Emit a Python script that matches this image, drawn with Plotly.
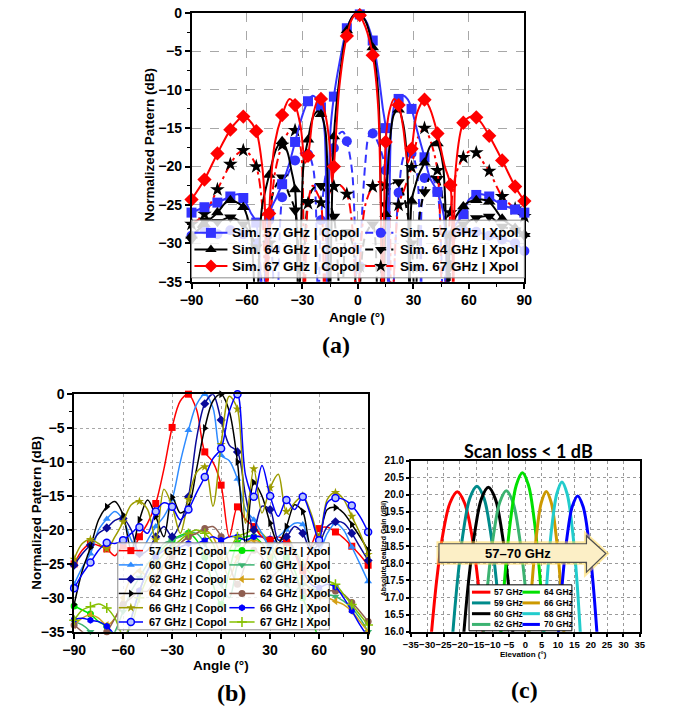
import plotly.graph_objects as go

W, H = 675, 717
OFF = 0
FW, FH = W - 2 * OFF, H - 2 * OFF
SANS = "Liberation Sans"
SERIF = "Liberation Serif"

# ================= (a) data : normalized pattern, 57/64/67 GHz =================
A_MARK_ANG = [-90, -83, -76, -69, -62, -55, -48, -41, -34, -27, -20, -13, -6, 1, 8,
              15, 22, 29, 36, 43, 50, 57, 64, 71, 78, 85, 90]

A_C57_ANG = [-90, -83, -76, -69, -65, -62, -58, -55, -51.5, -48, -44, -41, -37, -34, -30, -27, -24.5, -22, -20, -18,
             -16.5, -15, -13, -10, -6, -3, -1, 1, 4, 8, 11, 13.5, 15, 16.5, 18, 20, 22, 24.5, 27, 29,
             32, 36, 39, 43, 46.5, 48.5, 50, 53, 57, 60, 64, 67, 71, 74, 78, 85, 90]
A_C57_VAL = [-26.0, -25.3, -24.7, -23.9, -23.6, -24.1, -26.0, -27.3, -40, -26.2, -24.0, -22.3, -19.5, -16.8, -13.3, -11.5, -10.8, -11.3, -12.3, -15.5,
             -40, -15.8, -10.9, -6.5, -2.0, -0.5, 0.0, -0.2, -0.9, -3.6, -7.8, -12.5, -15.0, -40, -15.0, -11.8, -11.2, -10.8, -11.3, -12.5,
             -15.3, -18.8, -21.5, -23.3, -26.5, -40, -29.0, -27.5, -26.2, -24.3, -23.7, -23.6, -23.9, -24.4, -25.0, -25.6, -26.0]

A_C64_ANG = [-90, -83, -76, -72, -69, -66, -62, -58, -55, -52, -48, -44, -41, -38, -36, -34, -32, -29.5, -27, -24,
             -21.5, -20, -17.5, -15.5, -13, -10, -6, -3, 0, 1, 4, 8, 11, 13.5, 15, 17, 19.5, 22, 24.5, 26.5,
             28, 29, 31, 33, 36, 39, 42, 43, 46, 49, 50, 53, 57, 60, 64, 67, 71, 75, 78, 85, 90]
A_C64_VAL = [-29.0, -27.5, -26.0, -24.8, -24.4, -24.6, -25.3, -28.5, -40, -25.5, -21.1, -17.6, -16.7, -18.2, -20.5, -23.0, -40, -20.0, -16.5, -13.4,
             -12.8, -13.2, -15.5, -40, -16.1, -8.5, -2.3, -0.5, 0.0, -0.1, -1.0, -4.5, -10.5, -40, -26.2, -17.5, -13.2, -12.6, -14.5, -19.0,
             -40, -24.5, -22.5, -21.0, -19.5, -17.4, -16.8, -17.0, -19.8, -40, -29.0, -26.5, -25.2, -24.6, -24.4, -24.3, -24.6, -25.8, -26.8, -28.0, -28.8]

A_C67_ANG = [-90, -83, -76, -69, -65, -62, -59, -55, -52, -50.5, -49.2, -48, -45, -41, -37, -34, -31, -28.5, -27, -24,
             -21, -20, -17, -15, -14, -13, -10, -6, -3, 0, 1, 4, 8, 11, 13.5, 15, 17, 19.5, 22, 24.5,
             27, 29, 32, 36, 39, 43, 47, 50, 51.5, 53, 57, 60, 63, 64, 67, 71, 78, 85, 90]
A_C67_VAL = [-24.3, -21.7, -18.3, -15.2, -14.0, -13.5, -13.9, -15.4, -19.5, -24.0, -40, -26.1, -17.0, -13.3, -11.2, -12.0, -14.8, -19.5, -18.6, -13.0,
             -11.1, -11.2, -14.0, -18.0, -22.0, -20.0, -9.5, -3.0, -0.7, 0.0, -0.3, -1.8, -5.5, -12.5, -40, -16.8, -12.8, -11.2, -12.0, -15.0,
             -19.5, -17.7, -13.0, -11.3, -12.5, -15.7, -20.0, -22.4, -40, -20.0, -14.3, -13.6, -13.5, -13.6, -14.4, -16.0, -19.2, -22.6, -24.5]

A_X57_ANG = [-90, -83, -76, -69, -62, -55, -51, -48, -44, -41, -37, -34, -31, -27, -24, -21.5, -20, -17, -13, -10,
             -8, -6, -3, 0, 1, 4, 6, 8, 11, 15, 18, 22, 25.5, 29, 32, 34.5, 36, 39, 43, 46.5,
             50, 57, 64, 71, 78, 85, 90]
A_X57_VAL = [-29.0, -28.2, -28.8, -28.3, -28.8, -30.0, -40, -27.0, -40, -24.0, -20.5, -19.2, -18.3, -18.4, -20.5, -40, -27.0, -20.5, -17.6, -15.7,
             -15.5, -16.7, -21.0, -45, -33, -19.5, -16.0, -15.7, -17.0, -20.5, -40, -23.4, -18.4, -18.3, -21.0, -40, -21.5, -21.0, -23.3, -40,
             -29.0, -28.3, -28.5, -29.0, -29.5, -30.0, -31.0]

A_X64_ANG = [-90, -83, -76, -69, -62, -55, -50.5, -48, -46, -41, -37.5, -34, -30.5, -27, -24, -20, -16, -13, -9, -6,
             -3, 0, 1, 4, 8, 11, 15, 18.5, 22, 25, 29, 31, 33, 36, 39.5, 43, 46, 49, 50, 53,
             57, 64, 71, 78, 85, 90]
A_X64_VAL = [-29.5, -27.0, -27.2, -26.6, -27.5, -30.5, -40, -30.0, -23.5, -21.4, -23.5, -25.7, -40, -24.6, -22.8, -22.5, -24.5, -26.5, -40, -28.5,
             -30.0, -45, -36, -29.0, -27.5, -40, -25.0, -22.3, -22.0, -24.0, -30.0, -40, -27.0, -23.3, -21.3, -21.6, -24.5, -40, -33.0, -28.0,
             -27.5, -26.7, -26.5, -27.8, -28.3, -29.0]

A_X67_ANG = [-90, -83, -76, -69, -65, -62, -59, -55, -52, -49.5, -48, -45, -41, -37, -34, -31, -29, -27, -24.5, -22,
             -20, -18, -15.5, -13, -10, -6, -3, 0, 1, 4, 8, 11, 15, 18, 22, 25, 29, 32, 36, 39,
             43, 46, 50, 53, 57, 60.5, 64, 67, 71, 78, 85, 90]
A_X67_VAL = [-27.5, -26.2, -23.0, -19.7, -18.3, -17.9, -18.3, -20.0, -24.5, -40, -30.0, -21.0, -17.2, -15.4, -15.3, -17.5, -40, -24.8, -22.5, -23.5,
             -24.7, -40, -23.5, -22.6, -22.4, -23.6, -28.0, -45, -33, -25.0, -22.6, -22.0, -22.5, -40, -25.0, -23.0, -20.1, -16.5, -15.0, -16.5,
             -20.5, -40, -26.0, -21.0, -18.8, -18.0, -18.2, -19.2, -20.6, -23.9, -25.5, -26.5]

# ================= (b) data : normalized pattern, 57-67 GHz =================
B_ANG = list(range(-90, 91, 5))
B_MARK_ANG = list(range(-90, 91, 10))

B_C57 = [-25.0, -23.0, -22.0, -22.3, -22.8, -23.8, -22.3, -23.1, -21.0, -19.0, -16.1, -11.0, -4.9, -1.0, 0.0, -2.3, -8.5, -10.0, -13.4,
         -21.0, -16.6, -18.5, -19.5, -21.0, -21.5, -21.0, -21.8, -23.5, -26.0, -22.5, -19.8, -19.6, -20.3, -21.2, -22.4, -23.7, -25.2]
B_C60 = [-28.0, -25.5, -23.5, -20.0, -18.4, -17.3, -18.5, -21.5, -23.5, -21.5, -19.5, -18.0, -15.5, -10.0, -5.3, -1.5, 0.0, -2.0, -9.0,
         -9.8, -12.5, -17.0, -18.5, -20.5, -22.5, -21.0, -20.0, -19.0, -19.2, -22.5, -23.0, -20.5, -19.0, -20.0, -22.5, -25.0, -27.6]
B_C62 = [-25.2, -23.5, -22.2, -20.5, -19.7, -18.6, -18.3, -20.0, -23.5, -23.0, -21.0, -19.5, -21.0, -19.0, -15.1, -6.5, -1.4, 0.0, -3.8,
         -7.5, -8.5, -15.0, -20.0, -16.5, -17.0, -21.5, -21.0, -19.5, -20.5, -23.0, -22.0, -19.5, -18.8, -19.0, -20.5, -22.5, -24.5]
B_C64 = [-31.0, -26.0, -22.6, -18.5, -16.6, -15.8, -17.8, -23.0, -18.5, -15.6, -18.0, -21.0, -15.2, -17.5, -16.5, -11.0, -5.0, -1.0, 0.0,
         -2.5, -10.0, -22.0, -13.0, -15.0, -19.0, -22.0, -19.5, -16.3, -17.3, -22.5, -21.0, -17.0, -16.7, -17.5, -19.2, -21.0, -23.0]
B_C66 = [-24.3, -22.0, -21.4, -22.0, -22.8, -21.0, -18.8, -16.3, -15.8, -17.0, -21.5, -14.0, -16.5, -20.5, -15.5, -11.5, -10.7, -16.5, -7.4,
         -0.3, -2.2, -19.0, -11.0, -17.5, -13.8, -11.8, -17.3, -16.0, -15.0, -17.5, -21.0, -15.5, -14.5, -15.5, -18.0, -20.5, -23.6]
B_C67 = [-28.6, -26.5, -24.8, -23.0, -21.9, -22.0, -21.5, -20.5, -19.6, -20.5, -17.3, -16.0, -16.6, -18.5, -17.0, -14.5, -12.2, -9.5, -8.0,
         -2.5, 0.0, -12.0, -15.1, -10.5, -15.0, -18.0, -15.6, -17.0, -15.1, -18.0, -21.5, -16.0, -15.3, -15.5, -16.4, -18.0, -20.3]
B_X57 = [-31.2, -31.8, -32.4, -33.5, -34.2, -36.0, -37.0, -33.0, -29.0, -26.0, -24.0, -22.5, -21.5, -20.8, -20.5, -21.5, -24.0, -28.0, -31.0,
         -26.0, -22.0, -21.0, -21.0, -22.0, -24.0, -26.0, -24.0, -26.0, -30.0, -33.0, -36.0, -38.0, -37.0, -38.0, -40.0, -40.0, -40.0]
B_X60 = [-33.5, -34.0, -35.0, -37.0, -37.0, -35.0, -32.0, -29.0, -27.0, -25.0, -23.5, -22.0, -21.5, -21.0, -20.5, -20.5, -22.0, -25.0, -28.0,
         -30.0, -25.0, -22.0, -21.0, -21.0, -22.5, -25.0, -28.0, -29.0, -28.0, -28.5, -29.0, -29.5, -29.8, -30.5, -31.5, -33.0, -35.0]
B_X62 = [-34.0, -33.0, -32.5, -33.0, -34.0, -33.0, -30.0, -27.0, -26.0, -27.0, -28.0, -25.0, -23.0, -22.0, -21.0, -20.5, -20.0, -21.0, -24.0,
         -27.0, -24.0, -22.0, -21.5, -22.0, -24.0, -22.0, -21.0, -23.0, -27.0, -29.0, -30.0, -30.0, -30.5, -31.0, -32.0, -33.5, -35.0]
B_X64 = [-34.0, -35.0, -36.0, -36.0, -35.0, -33.0, -31.0, -30.0, -29.0, -29.0, -27.0, -25.0, -24.0, -22.0, -21.0, -20.5, -19.8, -19.5, -21.0,
         -25.0, -28.0, -25.0, -23.0, -24.0, -27.0, -26.0, -25.0, -27.0, -29.0, -30.0, -29.5, -29.0, -29.0, -29.5, -30.7, -32.0, -33.5]
B_X66 = [-33.2, -33.0, -33.3, -33.5, -34.2, -35.5, -37.0, -33.0, -29.0, -26.0, -24.0, -23.0, -22.5, -22.5, -22.0, -22.0, -21.5, -21.0, -21.5,
         -21.0, -21.0, -21.5, -21.0, -21.0, -21.3, -22.0, -21.5, -23.0, -26.0, -28.0, -28.5, -28.0, -28.4, -30.0, -31.9, -34.0, -35.8]
B_X67 = [-33.3, -31.8, -31.3, -30.9, -31.5, -33.0, -35.5, -34.0, -30.0, -27.0, -25.0, -23.5, -22.5, -21.5, -20.5, -20.0, -20.5, -22.0, -25.0,
         -23.0, -21.0, -20.5, -20.0, -20.5, -22.0, -23.5, -22.0, -23.0, -25.0, -26.5, -27.0, -27.5, -28.0, -29.5, -31.0, -32.5, -34.0]

# ================= (c) data : absolute realized gain vs elevation =================
C_X57 = [-29.5, -27.1, -25.2, -23.0, -20.8, -18.6, -16.4, -14.5, -12.1]
C_Y57 = [15.1, 17.5, 18.85, 19.77, 20.09, 19.77, 18.85, 17.5, 15.1]
C_X59 = [-22.9, -20.7, -18.9, -16.9, -14.8, -12.7, -10.7, -8.9, -6.7]
C_Y59 = [15.1, 17.53, 18.96, 19.92, 20.25, 19.92, 18.96, 17.53, 15.1]
C_X60 = [-19.55, -17.3, -15.4, -13.4, -11.3, -9.2, -7.2, -5.3, -3.05]
C_Y60 = [15.1, 17.52, 18.94, 19.89, 20.22, 19.89, 18.94, 17.52, 15.1]
C_X62 = [-13.5, -11.4, -9.65, -7.75, -5.8, -3.85, -1.95, -0.2, 1.9]
C_Y62 = [15.13, 17.48, 18.87, 19.8, 20.12, 19.8, 18.87, 17.48, 15.13]
C_X64 = [-8.15, -6.2, -4.55, -2.75, -0.9, 0.95, 2.75, 4.4, 6.35]
C_Y64 = [15.0, 17.67, 19.24, 20.29, 20.65, 20.29, 19.24, 17.67, 15.0]
C_X66 = [0.45, 2.1, 3.45, 4.9, 6.4, 7.9, 9.35, 10.7, 12.35]
C_Y66 = [15.14, 17.48, 18.86, 19.78, 20.1, 19.78, 18.86, 17.48, 15.14]
C_X68 = [5.05, 6.7, 8.1, 9.65, 11.2, 12.75, 14.3, 15.7, 17.35]
C_Y68 = [15.08, 17.58, 19.06, 20.04, 20.38, 20.04, 19.06, 17.58, 15.08]
C_X70 = [9.5, 11.3, 12.75, 14.35, 16.0, 17.65, 19.25, 20.7, 22.5]
C_Y70 = [15.17, 17.43, 18.77, 19.66, 19.97, 19.66, 18.77, 17.43, 15.17]

# ---------------------------------------------------------------------------
fig = go.Figure()


def bold(size, family=SANS, color="black"):
    return dict(family=family, size=size, color=color, weight="bold")


def add_curve(ang, val, marks, color, lw, dash, symbol, msize, mcolor, xa, ya, yr, mline=None):
    fig.add_trace(go.Scatter(x=ang, y=val, mode="lines",
                             line=dict(color=color, width=lw, dash=dash, shape="spline", smoothing=0.9),
                             xaxis=xa, yaxis=ya, showlegend=False, hoverinfo="skip"))
    lookup = dict(zip(ang, val))
    mx = [a for a in marks if a in lookup and yr[0] <= lookup[a] <= yr[1]]
    my = [lookup[a] for a in mx]
    fig.add_trace(go.Scatter(x=mx, y=my, mode="markers",
                             marker=dict(symbol=symbol, size=msize, color=mcolor,
                                         line=mline if mline else dict(width=0)),
                             xaxis=xa, yaxis=ya, showlegend=False, cliponaxis=False, hoverinfo="skip"))


# ---- (a) series: (label, ang, val, color, dash, symbol, size, marker colour)
A_SERIES = [
    ("Sim. 57 GHz | Copol", A_C57_ANG, A_C57_VAL, "#3333ff", "solid", "square", 10, "#3333ff"),
    ("Sim. 57 GHz | Xpol", A_X57_ANG, A_X57_VAL, "#3333ff", "8px,5px", "circle", 10, "#3333ff"),
    ("Sim. 64 GHz | Copol", A_C64_ANG, A_C64_VAL, "black", "solid", "triangle-up", 11, "black"),
    ("Sim. 64 GHz | Xpol", A_X64_ANG, A_X64_VAL, "black", "8px,5px", "triangle-down", 11, "black"),
    ("Sim. 67 GHz | Copol", A_C67_ANG, A_C67_VAL, "#ff0000", "solid", "diamond", 11, "#ff0000"),
    ("Sim. 67 GHz | Xpol", A_X67_ANG, A_X67_VAL, "#ff0000", "10px,4px,3px,4px", "star", 11, "black"),
]
for s in [A_SERIES[1], A_SERIES[3], A_SERIES[5], A_SERIES[0], A_SERIES[2], A_SERIES[4]]:
    add_curve(s[1], s[2], A_MARK_ANG, s[3], 2, s[4], s[5], s[6], s[7], "x", "y", (-35, 0))

# ---- (b) series
B_SERIES = [
    ("57 GHz | Copol", B_C57, "#ff0000", "square", "#ff0000", None),
    ("57 GHz | Xpol", B_X57, "#00e400", "circle", "#00e400", None),
    ("60 GHz | Copol", B_C60, "#2e8bff", "triangle-up", "#2e8bff", None),
    ("60 GHz | Xpol", B_X60, "#3cb371", "triangle-down", "#3cb371", None),
    ("62 GHz | Copol", B_C62, "#0a0a9a", "diamond", "#0a0a9a", None),
    ("62 GHz | Xpol", B_X62, "#d4a017", "triangle-left", "#d4a017", None),
    ("64 GHz | Copol", B_C64, "black", "triangle-right", "black", None),
    ("64 GHz | Xpol", B_X64, "#8e5e50", "circle", "#8e5e50", None),
    ("66 GHz | Copol", B_C66, "#9c9c00", "star", "#9c9c00", None),
    ("66 GHz | Xpol", B_X66, "#0000ff", "hexagon", "#0000ff", None),
    ("67 GHz | Copol", B_C67, "#0000ff", "circle", "#b8c4ff", dict(color="#0000ff", width=1.5)),
    ("67 GHz | Xpol", B_X67, "#86c000", "cross-thin", "#86c000", dict(color="#86c000", width=1.5)),
]
for s in [B_SERIES[i] for i in (1, 3, 5, 7, 9, 11, 0, 2, 4, 6, 8, 10)]:
    add_curve(B_ANG, s[1], B_MARK_ANG, s[2], 1.5, "solid", s[3], 7, s[4], "x2", "y2", (-35, 0), s[5])

# ---- (c) series
C_SERIES = [
    ("57 GHz", C_X57, C_Y57, "#ff0000"),
    ("59 GHz", C_X59, C_Y59, "#008b8b"),
    ("60 GHz", C_X60, C_Y60, "#000000"),
    ("62 GHz", C_X62, C_Y62, "#3cb371"),
    ("64 GHz", C_X64, C_Y64, "#00e000"),
    ("66 GHz", C_X66, C_Y66, "#cc9900"),
    ("68 GHz", C_X68, C_Y68, "#22cccc"),
    ("70 GHz", C_X70, C_Y70, "#0000ff"),
]
for name, xs, ys, col in C_SERIES:
    fig.add_trace(go.Scatter(x=xs, y=ys, mode="lines", line=dict(color=col, width=3, shape="spline", smoothing=1.0),
                             xaxis="x3", yaxis="y3", showlegend=False, hoverinfo="skip"))

# ---------------------------------------------------------------------------
# Hand-drawn legends on a full-page pixel overlay (x4/y4, page pixel coordinates)
annots = []


def box(x0, x1, y0, y1, fill, edge):
    fig.add_trace(go.Scatter(x=[x0, x1, x1, x0, x0], y=[y0, y0, y1, y1, y0], mode="lines", fill="toself",
                             fillcolor=fill, line=dict(color=edge, width=1), xaxis="x4", yaxis="y4",
                             showlegend=False, hoverinfo="skip"))


def item(lx0, lx1, mxp, y, color, lw, dash, symbol, msize, mcolor, mline, text, tx, fsize):
    fig.add_trace(go.Scatter(x=[lx0, lx1], y=[y, y], mode="lines", line=dict(color=color, width=lw, dash=dash),
                             xaxis="x4", yaxis="y4", showlegend=False, hoverinfo="skip"))
    if symbol:
        fig.add_trace(go.Scatter(x=[mxp], y=[y], mode="markers",
                                 marker=dict(symbol=symbol, size=msize, color=mcolor,
                                             line=mline if mline else dict(width=0)),
                                 xaxis="x4", yaxis="y4", showlegend=False, hoverinfo="skip"))
    annots.append(dict(x=tx, y=y, xref="x4", yref="y4", text=text, showarrow=False, xanchor="left",
                       yanchor="middle", font=bold(fsize)))


# legend (a)
box(185, 528, 217, 276, "rgba(255,255,255,0.82)", "#8c8c8c")
A_COLS = [(188, 222, 205, 225), (364, 393, 380, 398)]
for k, s in enumerate(A_SERIES):
    r, c = divmod(k, 2)
    lx0, lx1, mxp, tx = A_COLS[c]
    item(lx0, lx1, mxp, 230 + 17 * r, s[3], 2, s[4], s[5], 10, s[7], None, s[0], tx, 13.5)

# legend (b)
box(109, 327, 547, 636, "rgba(255,255,255,0.82)", "#8c8c8c")
B_COLS = [(110, 135, 122.5, 139), (224, 250, 237, 253)]
for k, s in enumerate(B_SERIES):
    r, c = divmod(k, 2)
    lx0, lx1, mxp, tx = B_COLS[c]
    item(lx0, lx1, mxp, 555 + 14.6 * r, s[2], 1.5, "solid", s[3], 7, s[4], s[5], s[0], tx, 11)

# legend (c)
box(471, 577, 590, 637, "white", "black")
C_COLS = [(474, 493, 0, 495), (526, 544, 0, 546)]
for k, (name, xs, ys, col) in enumerate(C_SERIES):
    c, r = divmod(k, 4)
    lx0, lx1, mxp, tx = C_COLS[c]
    item(lx0, lx1, mxp, 597.5 + 11 * r, col, 3, "solid", None, 0, None, None, name, tx, 8.5)


# ---------------------------------------------------------------------------
def dom_x(p0, p1):
    return [(p0 - OFF) / FW, (p1 - OFF) / FW]


def dom_y(p_top, p_bot):
    return [1 - (p_bot - OFF) / FH, 1 - (p_top - OFF) / FH]


def axis(**kw):
    d = dict(showline=True, linecolor="black", linewidth=1.5, mirror=True, ticks="outside", ticklen=5,
             tickwidth=1.5, tickcolor="black", zeroline=False, showgrid=True, gridcolor="#a8a8a8",
             gridwidth=1, fixedrange=True, tickfont=bold(14), tickangle=0)
    d.update(kw)
    return d


minor_x = dict(dtick=15, ticks="outside", ticklen=3, tickcolor="black", tickwidth=1, showgrid=False)
minor_y = dict(dtick=2.5, ticks="outside", ticklen=3, tickcolor="black", tickwidth=1, showgrid=False)

fig.update_layout(
    width=FW, height=FH, margin=dict(l=0, r=0, t=0, b=0, pad=0),
    paper_bgcolor="white", plot_bgcolor="rgba(0,0,0,0)", showlegend=False,
    xaxis=axis(domain=dom_x(185, 528), range=[-90, 90], tick0=-90, dtick=30, griddash="dash",
               minor=minor_x, anchor="y"),
    yaxis=axis(domain=dom_y(5, 280), range=[-35, 0], tick0=0, dtick=5, griddash="dash",
               minor=minor_y, anchor="x"),
    xaxis2=axis(domain=dom_x(64, 367), range=[-90, 90], tick0=-90, dtick=30, griddash="dot",
                minor=minor_x, anchor="y2"),
    yaxis2=axis(domain=dom_y(395, 638), range=[-35, 0], tick0=0, dtick=5, griddash="dot",
                minor=minor_y, anchor="x2"),
    xaxis3=axis(domain=dom_x(411, 647), range=[-35, 35], tick0=-35, dtick=5, griddash="dot",
                ticklen=3, tickfont=bold(9.5), anchor="y3", gridcolor="#9a9a9a"),
    yaxis3=axis(domain=dom_y(463, 638), range=[16, 21], tick0=16, dtick=0.5, tickformat=".1f",
                griddash="dot", ticklen=3, tickfont=bold(10), anchor="x3", gridcolor="#9a9a9a"),
    xaxis4=dict(domain=[0, 1], range=[OFF, OFF + FW], visible=False, fixedrange=True, anchor="y4"),
    yaxis4=dict(domain=[0, 1], range=[OFF + FH, OFF], visible=False, fixedrange=True, anchor="x4"),
)

# arrow "57-70 GHz" in (c)
ARROW = "M440,548 L592,548 L592,540 L612,558 L592,577 L592,567 L440,567 Z"
fig.add_shape(type="path", path=ARROW, xref="x4", yref="y4", layer="above",
              line=dict(color="rgba(255,215,80,0.55)", width=5), fillcolor="rgba(0,0,0,0)")
fig.add_shape(type="path", path=ARROW, xref="x4", yref="y4", layer="above",
              line=dict(color="#505050", width=1.2), fillcolor="#fcefc6")

annots += [
    dict(x=521, y=558, text="57–70 GHz", font=bold(13)),
    dict(x=532, y=453, text="Scan loss < 1 dB", font=bold(18, family="Lato")),
    dict(x=142, y=140, text="Normalized Pattern (dB)", textangle=-90, font=bold(13.5)),
    dict(x=356, y=317, text="Angle (°)", font=bold(13.5)),
    dict(x=25, y=516, text="Normalized Pattern (dB)", textangle=-90, font=bold(13.5)),
    dict(x=215, y=673, text="Angle (°)", font=bold(13.5)),
    dict(x=383, y=553, text="Absolute Realized Gain (dBi)", textangle=-90, font=bold(7)),
    dict(x=527, y=661, text="Elevation (°)", font=bold(8)),
    dict(x=334, y=345, text="(a)", font=bold(24, family=SERIF)),
    dict(x=226, y=701, text="(b)", font=bold(24, family=SERIF)),
    dict(x=528, y=698, text="(c)", font=bold(24, family=SERIF)),
]
for a in annots:
    a.setdefault("xref", "x4")
    a.setdefault("yref", "y4")
    a.setdefault("showarrow", False)
fig.update_layout(annotations=annots)

# the page itself has no margin, so the 675x717 figure fills the window exactly
fig.write_html("out.html", config={"displayModeBar": False},
               post_script="document.body.style.margin='0';document.body.style.overflow='hidden';")
